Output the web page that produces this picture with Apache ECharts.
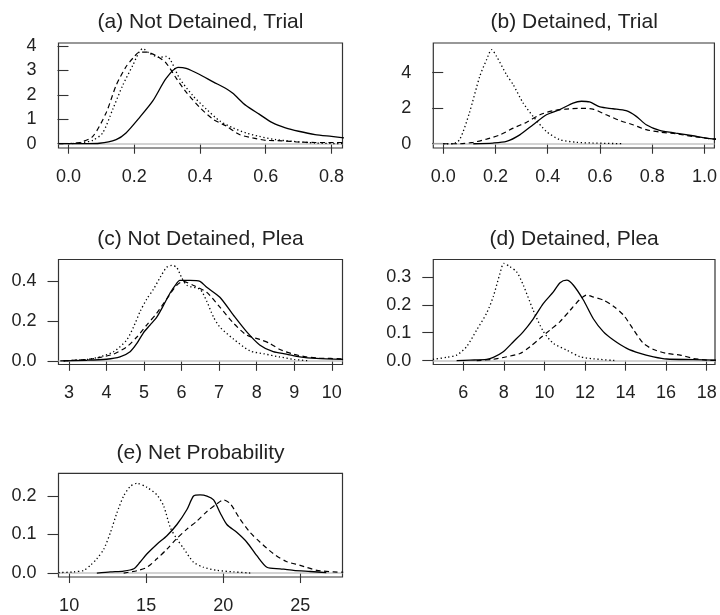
<!DOCTYPE html>
<html><head><meta charset="utf-8">
<script src="https://cdn.jsdelivr.net/npm/echarts@6/dist/echarts.min.js"></script>
<style>html,body{margin:0;padding:0;background:#fff}#c{width:720px;height:615px}</style>
</head><body><div id="c"></div>
<script>
// ---------- DATA ----------
const panelTitles = ["(a) Not Detained, Trial", "(b) Detained, Trial", "(c) Not Detained, Plea", "(d) Detained, Plea", "(e) Net Probability"];

// tick labels
const xTicksA = [0.0, 0.2, 0.4, 0.6, 0.8];
const yTicksA = [0, 1, 2, 3, 4];
const xTicksB = [0.0, 0.2, 0.4, 0.6, 0.8, 1.0];
const yTicksB = [0, 2, 4];
const xTicksC = [3, 4, 5, 6, 7, 8, 9, 10];
const yTicksC = [0.0, 0.2, 0.4];
const xTicksD = [6, 8, 10, 12, 14, 16, 18];
const yTicksD = [0.0, 0.1, 0.2, 0.3];
const xTicksE = [10, 15, 20, 25];
const yTicksE = [0.0, 0.1, 0.2];

// (a) Not Detained, Trial  [x, density]
const aSolid = [[-0.03,0],[0.05,0.005],[0.094,0.02],[0.145,0.17],[0.175,0.44],[0.216,1.07],[0.257,1.76],[0.297,2.67],[0.333,3.12],[0.358,3.08],[0.399,2.83],[0.44,2.53],[0.48,2.25],[0.5,2.06],[0.54,1.56],[0.58,1.21],[0.62,0.86],[0.66,0.65],[0.70,0.51],[0.75,0.375],[0.80,0.3],[0.84,0.24]];
const aDashed = [[-0.03,0],[0.033,0.05],[0.074,0.3],[0.115,1.28],[0.145,2.39],[0.175,3.15],[0.196,3.5],[0.216,3.75],[0.236,3.75],[0.267,3.6],[0.297,3.3],[0.328,2.67],[0.358,2.11],[0.399,1.49],[0.44,1.0],[0.48,0.72],[0.52,0.375],[0.56,0.24],[0.6,0.14],[0.65,0.12],[0.7,0.07],[0.75,0.05],[0.84,0.05]];
const aDotted = [[0.0,0],[0.033,0.03],[0.074,0.14],[0.104,0.44],[0.135,1.42],[0.165,2.39],[0.196,3.22],[0.216,3.78],[0.226,3.89],[0.246,3.7],[0.277,3.53],[0.297,3.57],[0.31,3.43],[0.338,2.67],[0.378,1.97],[0.419,1.42],[0.46,0.93],[0.5,0.65],[0.54,0.44],[0.58,0.3],[0.63,0.17],[0.68,0.1],[0.75,0.03],[0.84,0]];

// (b) Detained, Trial
const bSolid = [[0.115,0],[0.19,0.04],[0.242,0.13],[0.293,0.5],[0.344,1.07],[0.395,1.63],[0.446,1.92],[0.497,2.29],[0.529,2.39],[0.56,2.35],[0.6,2.07],[0.65,1.97],[0.70,1.86],[0.739,1.54],[0.777,1.07],[0.828,0.75],[0.89,0.6],[0.955,0.45],[1.006,0.32],[1.05,0.26]];
const bDashed = [[0,0],[0.064,0.0],[0.115,0.08],[0.166,0.26],[0.217,0.5],[0.268,0.88],[0.318,1.2],[0.37,1.63],[0.42,1.86],[0.47,1.95],[0.52,1.99],[0.573,1.95],[0.624,1.63],[0.675,1.31],[0.726,1.07],[0.777,0.79],[0.828,0.66],[0.89,0.56],[0.955,0.41],[1.05,0.23]];
const bDotted = [[0,0],[0.038,0.0],[0.064,0.26],[0.10,1.73],[0.14,3.8],[0.166,4.73],[0.185,5.3],[0.204,4.92],[0.242,3.89],[0.268,3.32],[0.306,2.29],[0.344,1.54],[0.395,0.69],[0.446,0.23],[0.51,0.08],[0.573,0.04],[0.688,0.0]];

// (c) Not Detained, Plea
const cSolid = [[2.77,0],[3.48,0.003],[4.0,0.008],[4.36,0.02],[4.63,0.046],[4.81,0.088],[4.98,0.14],[5.16,0.18],[5.34,0.22],[5.52,0.28],[5.69,0.34],[5.87,0.39],[5.95,0.405],[6.22,0.405],[6.49,0.40],[6.67,0.37],[7.02,0.32],[7.38,0.23],[7.73,0.147],[8.08,0.08],[8.44,0.046],[8.79,0.034],[9.15,0.02],[9.59,0.012],[10.3,0.007]];
const cDashed = [[2.86,0],[3.48,0.007],[3.83,0.017],[4.19,0.034],[4.54,0.07],[4.81,0.12],[5.07,0.18],[5.34,0.24],[5.6,0.31],[5.87,0.38],[6.04,0.40],[6.31,0.38],[6.67,0.345],[7.02,0.27],[7.38,0.19],[7.73,0.13],[8.08,0.108],[8.35,0.088],[8.62,0.057],[8.97,0.034],[9.32,0.02],[9.68,0.014],[10.3,0.01]];
const cDotted = [[2.86,0],[3.48,0.007],[3.83,0.02],[4.19,0.046],[4.54,0.105],[4.72,0.17],[4.9,0.25],[5.07,0.31],[5.25,0.36],[5.43,0.42],[5.6,0.47],[5.74,0.48],[5.87,0.47],[6.0,0.42],[6.14,0.38],[6.49,0.36],[6.67,0.30],[6.85,0.22],[7.02,0.17],[7.38,0.11],[7.82,0.05],[8.2,0.035],[8.6,0.02],[9.0,0.007],[9.4,0]];

// (d) Detained, Plea
const dSolid = [[5.67,0],[6.33,0.002],[7.15,0.005],[7.48,0.012],[7.97,0.032],[8.47,0.068],[8.96,0.104],[9.45,0.15],[9.95,0.205],[10.44,0.246],[10.77,0.279],[11.1,0.288],[11.43,0.27],[11.92,0.217],[12.41,0.15],[12.9,0.104],[13.4,0.074],[14.06,0.044],[14.72,0.026],[15.38,0.014],[16.03,0.006],[17.35,0.004],[18.5,0.002]];
const dDashed = [[6.66,0],[7.48,0.005],[8.14,0.014],[8.8,0.026],[9.29,0.05],[9.78,0.08],[10.28,0.11],[10.77,0.14],[11.26,0.18],[11.76,0.22],[12.08,0.235],[12.41,0.228],[12.9,0.217],[13.4,0.195],[13.9,0.163],[14.4,0.11],[14.88,0.062],[15.38,0.04],[16.03,0.026],[16.7,0.02],[17.35,0.008],[18.0,0.002],[18.5,0.001]];
const dDotted = [[4.5,0.005],[5.18,0.012],[5.67,0.02],[6.16,0.05],[6.66,0.11],[7.15,0.17],[7.48,0.23],[7.8,0.31],[8.0,0.348],[8.3,0.336],[8.63,0.318],[8.96,0.27],[9.45,0.18],[9.95,0.104],[10.44,0.062],[11.1,0.038],[11.76,0.014],[12.4,0.007],[13.57,0]];

// (e) Net Probability
const eSolid = [[11.8,0],[12.68,0.003],[13.54,0.005],[14.2,0.011],[14.6,0.028],[15.06,0.05],[15.7,0.075],[16.35,0.097],[17.0,0.126],[17.65,0.165],[18.08,0.2],[18.5,0.203],[18.95,0.2],[19.38,0.19],[19.81,0.156],[20.24,0.126],[20.9,0.105],[21.54,0.08],[22.19,0.045],[22.84,0.015],[23.7,0.011],[24.57,0.007],[25.65,0.004],[26.7,0.001]];
const eDashed = [[13.54,0],[14.4,0.006],[15.06,0.015],[15.7,0.037],[16.35,0.062],[17.0,0.09],[17.65,0.114],[18.3,0.135],[18.95,0.16],[19.6,0.18],[20.03,0.19],[20.46,0.18],[21.1,0.14],[21.76,0.105],[22.4,0.08],[23.27,0.05],[24.1,0.03],[25.0,0.02],[26.08,0.007],[27.16,0.003],[27.8,0.002]];
const eDotted = [[9.31,0.001],[10.3,0.003],[10.95,0.007],[11.38,0.02],[11.8,0.037],[12.25,0.062],[12.68,0.105],[13.1,0.156],[13.54,0.2],[13.97,0.225],[14.4,0.233],[15.04,0.223],[15.7,0.203],[16.14,0.174],[16.57,0.118],[17.0,0.088],[17.43,0.064],[18.08,0.028],[18.73,0.015],[19.6,0.007],[20.68,0.003],[21.76,0]];

// ---------- LAYOUT / STYLE ----------
const FONT = "'Liberation Sans', Arial, Helvetica, sans-serif";
const TXT = '#222';
const panels = [
  {grid:{left:58.5,top:43,width:284,height:105}, xr:[-0.0304,0.8335], yr:[-0.175,4.12], xt:xTicksA, yt:yTicksA, xd:1, yd:0, s:[aSolid,aDashed,aDotted], ty:12},
  {grid:{left:433.3,top:43,width:281.7,height:105}, xr:[-0.038,1.038], yr:[-0.24,5.67], xt:xTicksB, yt:yTicksB, xd:1, yd:0, s:[bSolid,bDashed,bDotted], ty:12},
  {grid:{left:58.5,top:259.5,width:284,height:105}, xr:[2.723,10.285], yr:[-0.0185,0.51], xt:xTicksC, yt:yTicksC, xd:0, yd:1, s:[cSolid,cDashed,cDotted], ty:229},
  {grid:{left:433.3,top:259.5,width:281.7,height:105}, xr:[4.52,18.41], yr:[-0.0136,0.362], xt:xTicksD, yt:yTicksD, xd:0, yd:1, s:[dSolid,dDashed,dDotted], ty:229},
  {grid:{left:58.5,top:473.3,width:284,height:105}, xr:[9.31,27.75], yr:[-0.0103,0.259], xt:xTicksE, yt:yTicksE, xd:0, yd:1, s:[eSolid,eDashed,eDotted], ty:443}
];
const styles = [
  {type:'solid', width:1.3},
  {type:[5,3.5], width:1.2},
  {type:[1.3,2.6], width:1.3}
];

const option = {
  animation:false,
  backgroundColor:'#fff',
  textStyle:{fontFamily:FONT},
  title:[], grid:[], xAxis:[], yAxis:[], series:[]
};

panels.forEach((p,i)=>{
  option.grid.push(Object.assign({show:true, borderColor:'#333', borderWidth:1.2, backgroundColor:'transparent', containLabel:false}, p.grid));
  option.title.push({
    text: panelTitles[i],
    left: p.grid.left + p.grid.width/2,
    top: p.ty,
    textAlign:'center',
    padding:0,
    textStyle:{fontFamily:FONT, fontSize:21, fontWeight:'normal', color:TXT}
  });
  option.xAxis.push({
    type:'value', gridIndex:i, min:p.xr[0], max:p.xr[1],
    axisLine:{show:false},
    splitLine:{show:false},
    axisTick:{show:true, inside:false, length:10, customValues:p.xt, lineStyle:{color:'#333', width:1.1}},
    axisLabel:{show:true, customValues:p.xt, margin:20, fontSize:18, color:TXT, fontFamily:FONT,
      formatter:(v)=>Number(v).toFixed(p.xd)}
  });
  option.yAxis.push({
    type:'value', gridIndex:i, min:p.yr[0], max:p.yr[1],
    axisLine:{show:false},
    splitLine:{show:false},
    axisTick:{show:true, inside:false, length:11, customValues:p.yt, lineStyle:{color:'#333', width:1.1}},
    axisLabel:{show:true, customValues:p.yt, margin:22, fontSize:18, color:TXT, fontFamily:FONT,
      formatter:(v)=>Number(v).toFixed(p.yd)}
  });
  p.s.forEach((d,k)=>{
    const ser = {
      type:'line', xAxisIndex:i, yAxisIndex:i, data:d, showSymbol:false, symbol:'none',
      smooth:0.25, clip:true, silent:true, z:3,
      lineStyle:Object.assign({color:'#000'}, styles[k])
    };
    if(k===0){
      ser.markLine = {silent:true, symbol:['none','none'], label:{show:false}, z:1,
        lineStyle:{color:'#c4c4c4', type:'solid', width:1.6},
        data:[{yAxis:0}]};
    }
    option.series.push(ser);
  });
});

const chart = echarts.init(document.getElementById('c'), null, {renderer:'canvas'});
chart.setOption(option);
</script>
</body></html>
